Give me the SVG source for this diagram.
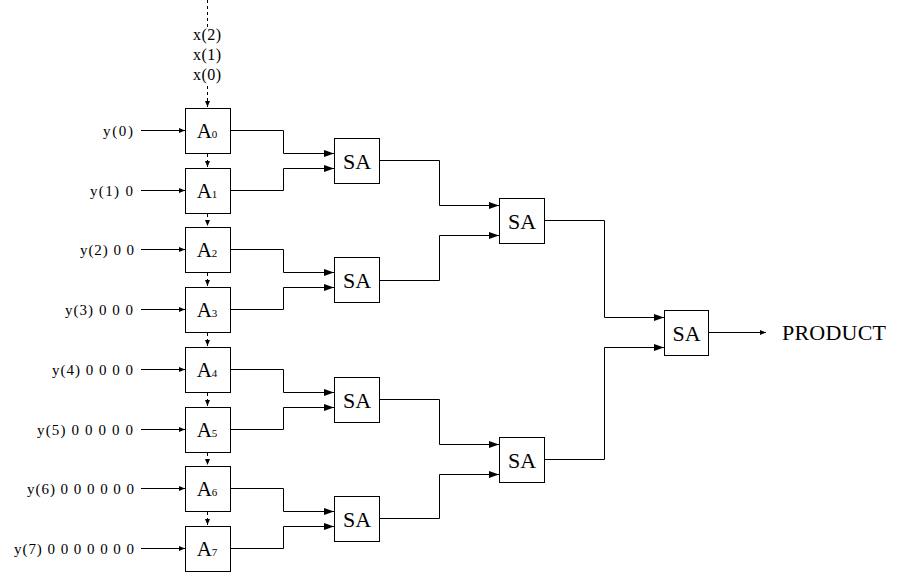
<svg xmlns="http://www.w3.org/2000/svg" width="908" height="574" viewBox="0 0 908 574">
<style>
.box{fill:#fff;stroke:#000;stroke-width:1}
.ln{fill:none;stroke:#000;stroke-width:1}
.dash{fill:none;stroke:#000;stroke-width:1;stroke-dasharray:3,3}
.lbl{font-family:"Liberation Serif","Times New Roman",serif;font-size:15px;fill:#000}
.xl{font-family:"Liberation Serif","Times New Roman",serif;font-size:16px;fill:#000;text-anchor:middle}
.a{font-family:"Liberation Serif","Times New Roman",serif;font-size:21px;fill:#000;text-anchor:middle}
.a tspan{font-size:11px}
.sa{font-family:"Liberation Serif","Times New Roman",serif;font-size:22px;fill:#000;text-anchor:middle}
</style>
<defs>
<marker id="big" markerUnits="userSpaceOnUse" markerWidth="10" markerHeight="7" refX="10" refY="3.5" orient="auto"><path d="M0,0 L10,3.5 L0,7 z" fill="#000"/></marker>
<marker id="sm" markerUnits="userSpaceOnUse" markerWidth="6" markerHeight="5" refX="6" refY="2.5" orient="auto"><path d="M0,0 L6,2.5 L0,5 z" fill="#000"/></marker>
</defs>

<g id="x-input">
<path class="dash" d="M207.5,0 V28"/>
<path class="dash" d="M207.5,86 V107" marker-end="url(#sm)"/>
<text class="xl" x="207" y="40" textLength="28" lengthAdjust="spacing">x(2)</text>
<text class="xl" x="207" y="60" textLength="28" lengthAdjust="spacing">x(1)</text>
<text class="xl" x="207" y="80" textLength="28" lengthAdjust="spacing">x(0)</text>
</g>

<g id="y-labels" class="lbl" text-anchor="end">
<text x="133" y="135.5" textLength="30" lengthAdjust="spacing">y(0)</text>
<text x="133" y="195.5" textLength="43" lengthAdjust="spacing">y(1) 0</text>
<text x="134" y="254.5" textLength="54" lengthAdjust="spacing">y(2) 0 0</text>
<text x="133" y="314.5" textLength="68" lengthAdjust="spacing">y(3) 0 0 0</text>
<text x="133" y="374.5" textLength="81" lengthAdjust="spacing">y(4) 0 0 0 0</text>
<text x="133" y="434.5" textLength="96" lengthAdjust="spacing">y(5) 0 0 0 0 0</text>
<text x="134" y="493.5" textLength="107" lengthAdjust="spacing">y(6) 0 0 0 0 0 0</text>
<text x="134" y="553.5" textLength="120" lengthAdjust="spacing">y(7) 0 0 0 0 0 0 0</text>
</g>

<g id="A0"><rect class="box" x="185.5" y="108.5" width="45" height="45"/><text class="a" x="207" y="138">A<tspan>0</tspan></text></g>
<g id="A1"><rect class="box" x="185.5" y="168.5" width="45" height="45"/><text class="a" x="207" y="198">A<tspan>1</tspan></text></g>
<g id="A2"><rect class="box" x="185.5" y="227.5" width="45" height="45"/><text class="a" x="207" y="257">A<tspan>2</tspan></text></g>
<g id="A3"><rect class="box" x="185.5" y="287.5" width="45" height="45"/><text class="a" x="207" y="317">A<tspan>3</tspan></text></g>
<g id="A4"><rect class="box" x="185.5" y="347.5" width="45" height="45"/><text class="a" x="207" y="377">A<tspan>4</tspan></text></g>
<g id="A5"><rect class="box" x="185.5" y="407.5" width="45" height="45"/><text class="a" x="207" y="437">A<tspan>5</tspan></text></g>
<g id="A6"><rect class="box" x="185.5" y="466.5" width="45" height="45"/><text class="a" x="207" y="496">A<tspan>6</tspan></text></g>
<g id="A7"><rect class="box" x="185.5" y="526.5" width="45" height="45"/><text class="a" x="207" y="556">A<tspan>7</tspan></text></g>

<g id="SA1"><rect class="box" x="334.5" y="138.5" width="45" height="45"/><text class="sa" x="357" y="168.5">SA</text></g>
<g id="SA2"><rect class="box" x="334.5" y="257.5" width="45" height="45"/><text class="sa" x="357" y="287.5">SA</text></g>
<g id="SA3"><rect class="box" x="334.5" y="377.5" width="45" height="45"/><text class="sa" x="357" y="407.5">SA</text></g>
<g id="SA4"><rect class="box" x="334.5" y="496.5" width="45" height="45"/><text class="sa" x="357" y="526.5">SA</text></g>
<g id="SA5"><rect class="box" x="499.5" y="198.5" width="45" height="45"/><text class="sa" x="522" y="228.5">SA</text></g>
<g id="SA6"><rect class="box" x="499.5" y="437.5" width="45" height="45"/><text class="sa" x="522" y="467.5">SA</text></g>
<g id="SA7"><rect class="box" x="664.5" y="310.5" width="44" height="45"/><text class="sa" x="686.5" y="340.5">SA</text></g>

<text id="product" class="sa" x="782" y="340" style="text-anchor:start" textLength="104" lengthAdjust="spacing">PRODUCT</text>

<g id="connectors">
<path class="ln" d="M141,130.5 H185" marker-end="url(#sm)"/>
<path class="ln" d="M141,190.5 H185" marker-end="url(#sm)"/>
<path class="ln" d="M141,249.5 H185" marker-end="url(#sm)"/>
<path class="ln" d="M141,309.5 H185" marker-end="url(#sm)"/>
<path class="ln" d="M141,369.5 H185" marker-end="url(#sm)"/>
<path class="ln" d="M141,429.5 H185" marker-end="url(#sm)"/>
<path class="ln" d="M141,488.5 H185" marker-end="url(#sm)"/>
<path class="ln" d="M141,548.5 H185" marker-end="url(#sm)"/>
<path class="dash" d="M207.5,154 V167" marker-end="url(#sm)"/>
<path class="dash" d="M207.5,214 V226" marker-end="url(#sm)"/>
<path class="dash" d="M207.5,273 V286" marker-end="url(#sm)"/>
<path class="dash" d="M207.5,333 V346" marker-end="url(#sm)"/>
<path class="dash" d="M207.5,393 V406" marker-end="url(#sm)"/>
<path class="dash" d="M207.5,453 V465" marker-end="url(#sm)"/>
<path class="dash" d="M207.5,512 V525" marker-end="url(#sm)"/>
<path class="ln" d="M230.5,130.5 H283.5 V153.5 H334" marker-end="url(#big)"/>
<path class="ln" d="M230.5,190.5 H283.5 V168.5 H334" marker-end="url(#big)"/>
<path class="ln" d="M230.5,249.5 H283.5 V272.5 H334" marker-end="url(#big)"/>
<path class="ln" d="M230.5,309.5 H283.5 V287.5 H334" marker-end="url(#big)"/>
<path class="ln" d="M230.5,369.5 H283.5 V392.5 H334" marker-end="url(#big)"/>
<path class="ln" d="M230.5,429.5 H283.5 V407.5 H334" marker-end="url(#big)"/>
<path class="ln" d="M230.5,488.5 H283.5 V511.5 H334" marker-end="url(#big)"/>
<path class="ln" d="M230.5,548.5 H283.5 V526.5 H334" marker-end="url(#big)"/>
<path class="ln" d="M379.5,160.5 H439.5 V205.5 H499" marker-end="url(#big)"/>
<path class="ln" d="M379.5,280.5 H439.5 V235.5 H499" marker-end="url(#big)"/>
<path class="ln" d="M379.5,399.5 H439.5 V444.5 H499" marker-end="url(#big)"/>
<path class="ln" d="M379.5,518.5 H439.5 V474.5 H499" marker-end="url(#big)"/>
<path class="ln" d="M544.5,220.5 H604.5 V317.5 H664" marker-end="url(#big)"/>
<path class="ln" d="M544.5,459.5 H604.5 V347.5 H664" marker-end="url(#big)"/>
<path class="ln" d="M708.5,332.5 H766" marker-end="url(#sm)"/>
</g>
</svg>
